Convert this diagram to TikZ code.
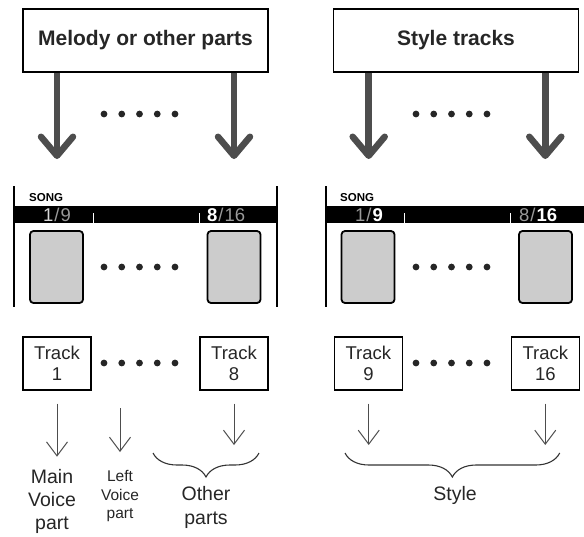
\documentclass[tikz,border=0pt]{standalone}
\usepackage{fontspec}
\setmainfont{Liberation Sans}
\usepackage{xcolor}
\usepackage{tikz}
\usetikzlibrary{arrows.meta,positioning,decorations.pathreplacing}
\definecolor{arrgrey}{HTML}{4D4D4D}
\definecolor{padgrey}{HTML}{CCCCCC}
\definecolor{numgrey}{HTML}{9A9A9A}
\newcommand{\fsz}[2]{\fontsize{#1}{#2}\selectfont}
\newcommand{\lit}[1]{\textcolor{white}{\bfseries #1}}
\newcommand{\dimnum}[1]{\textcolor{numgrey}{#1}}

\begin{document}
\begin{tikzpicture}[
  x=1pt, y=-1pt,
  title/.style={draw, line width=1.4pt, minimum width=245pt, minimum height=63pt, inner sep=0pt, font=\fsz{21}{24}\bfseries, text=black!85},
  trk/.style={draw, line width=1.1pt, minimum width=68pt, minimum height=53pt, align=center, inner sep=0pt, font=\fsz{18.5}{21.5}, text=black!85},
  pad/.style={draw, fill=padgrey, line width=1.8pt, rounded corners=3.5pt, minimum width=53pt, minimum height=72pt, inner sep=0pt},
  lbl/.style={align=center, inner sep=0pt, anchor=north, text=black!85},
  num/.style={anchor=base west, inner sep=0pt, font=\fsz{18.5}{18}},
  big/.style={-{Straight Barb[round, length=19pt, width=32pt]}, line width=6.5pt, draw=arrgrey},
  thin/.style={-{Straight Barb[length=14pt, width=21pt]}, line width=1pt, draw=arrgrey},
  brc/.style={decorate, decoration={brace, mirror, amplitude=24pt}, line width=1.1pt, draw=black!80},
  panel/.style={line width=1.3pt}
]
  \useasboundingbox (0,0) rectangle (584,536);

  % source boxes
  \node[title] (mel) at (145.5,40.5) {Melody or other parts};
  \node[title] (sty) at (456,40.5) {Style tracks};
  \coordinate (m1) at (57,159);
  \coordinate (m8) at (234,159);
  \coordinate (s9) at (368.7,159);
  \coordinate (s16) at (545.3,159);
  \draw[big] (mel.south -| m1) -- (m1);
  \draw[big] (mel.south -| m8) -- (m8);
  \draw[big] (sty.south -| s9) -- (s9);
  \draw[big] (sty.south -| s16) -- (s16);

  % song display
  \draw[panel] (14,186) -- (14,307);
  \draw[panel] (277,186) -- (277,307);
  \draw[panel] (326,186) -- (326,307);
  \fill (14,206) rectangle (277,223);
  \fill (326,206) rectangle (584,223);
  \foreach \x in {93,199,404,510}
    \draw[white, line width=1pt] (\x,213) -- (\x,223);
  \node[anchor=base west, inner sep=0pt, font=\fsz{11.5}{12}\bfseries] (songl) at (29,201) {SONG};
  \node[anchor=base west, inner sep=0pt, font=\fsz{11.5}{12}\bfseries] (songr) at (340,201) {SONG};
  \node[num] (n1) at (43,221) {\textcolor{white!85!black}{1}\kern1pt\dimnum{/}\kern1pt\dimnum{9}};
  \node[num] (n8) at (207,221) {\lit{8}\kern1pt\dimnum{/}\kern1pt\dimnum{16}};
  \node[num] (n9) at (355,221) {\dimnum{1}\kern1pt\dimnum{/}\kern1pt\lit{9}};
  \node[num] (n16) at (519,221) {\dimnum{8}\kern1pt\dimnum{/}\kern1pt\lit{16}};
  \node[pad] (p1) at (56.5,267) {};
  \node[pad] (p8) at (234,267) {};
  \node[pad] (p9) at (368,267) {};
  \node[pad] (p16) at (545.5,267) {};

  % dots
  \foreach \x in {104,416}
    \foreach \y in {114,267,363}
      \foreach \i in {0,...,4}
        \fill[black!85] ({\x+17.75*\i},\y) circle (3.4pt);

  % tracks
  \node[trk] (trk1) at (57,363.5) {Track\\1};
  \node[trk] (trk8) at (234,363.5) {Track\\8};
  \node[trk] (trk9) at (368.4,363.5) {Track\\9};
  \node[trk] (trk16) at (545.4,363.5) {Track\\16};

  % parts
  \node[lbl, font=\fsz{19.5}{23}] (mvp) at (52,469.2) {Main\\Voice\\part};
  \node[lbl, font=\fsz{15.5}{18.5}] (lvp) at (120,470.5) {Left\\Voice\\part};
  \node[lbl, font=\fsz{19.5}{23.5}] (oth) at (206,486.5) {Other\\parts};
  \node[lbl, font=\fsz{19.5}{23}] (stl) at (455,486.5) {Style};
  \coordinate (lvtop) at (120,408);
  \coordinate (e8) at (234,445);
  \coordinate (e9) at (368.7,445);
  \coordinate (e16) at (545.3,445);
  \draw[thin, shorten >=12.5pt] ([yshift=-13pt]trk1.south) -- (trk1.south |- mvp.north);
  \draw[thin, shorten >=18.5pt] (lvtop) -- (lvp.north);
  \draw[thin] ([yshift=-13pt]trk8.south) -- (e8);
  \draw[thin] ([yshift=-13pt]trk9.south -| e9) -- (e9);
  \draw[thin] ([yshift=-13pt]trk16.south -| e16) -- (e16);
  \coordinate (ol) at (153,453);
  \coordinate (or) at (259,453);
  \coordinate (sl) at (345,453);
  \coordinate (sr) at (559.7,453);
  \draw[brc] (ol) -- (or);
  \draw[brc] (sl) -- (sr);
\end{tikzpicture}
\end{document}
